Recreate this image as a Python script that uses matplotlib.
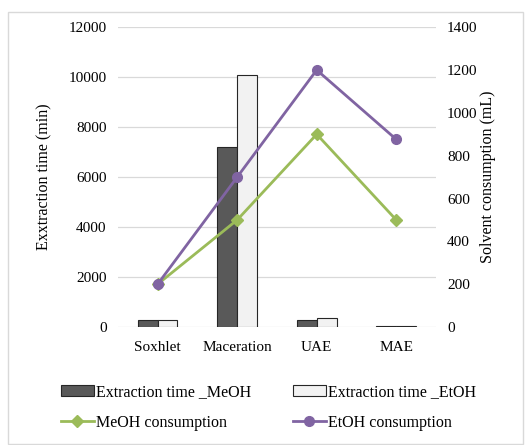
import matplotlib.pyplot as plt
import numpy as np
from matplotlib.patches import Rectangle

plt.rcParams["font.family"] = ["Liberation Serif", "DejaVu Serif"]

methods = ["Soxhlet", "Maceration", "UAE", "MAE"]
time_meoh = [270, 7200, 270, 30]
time_etoh = [290, 10080, 360, 30]
cons_meoh = [200, 500, 900, 500]
cons_etoh = [200, 700, 1200, 876]

x = np.arange(len(methods))
w = 0.25

fig = plt.figure(figsize=(5.26, 4.45), dpi=100)
ax = fig.add_axes([0.224, 0.265, 0.605, 0.674])

b1 = ax.bar(x - w / 2, time_meoh, w, color="#595959", edgecolor="#262626", linewidth=0.8,
            label="Extraction time _MeOH", zorder=2)
b2 = ax.bar(x + w / 2, time_etoh, w, color="#F2F2F2", edgecolor="#262626", linewidth=0.8,
            label="Extraction time _EtOH", zorder=2)
ax.set_ylim(0, 12000)
ax.set_yticks(range(0, 12001, 2000))
ax.set_xlim(-0.5, 3.5)
ax.set_xticks(x, methods)
ax.grid(axis="y", color="#d9d9d9", linewidth=0.9, zorder=0)
ax.set_axisbelow(True)
ax.tick_params(length=0, labelsize=11, pad=8)
ax.tick_params(axis="x", pad=10)
for s in ax.spines.values():
    s.set_visible(False)
ax.set_ylabel("Exxtraction time (min)", fontsize=11.5, labelpad=12)

ax2 = ax.twinx()
l1, = ax2.plot(x, cons_meoh, color="#9BBB59", marker="D", markersize=6, linewidth=2,
               label="MeOH consumption", zorder=3)
l2, = ax2.plot(x, cons_etoh, color="#8064A2", marker="o", markersize=7, linewidth=2,
               label="EtOH consumption", zorder=3)
ax2.set_ylim(0, 1400)
ax2.set_yticks(range(0, 1401, 200))
ax2.tick_params(length=0, labelsize=11, pad=8)
for s in ax2.spines.values():
    s.set_visible(False)
ax2.set_ylabel("Solvent consumption (mL)", fontsize=11.5, labelpad=2)

fig.legend([b1, l1, b2, l2],
           ["Extraction time _MeOH", "MeOH consumption", "Extraction time _EtOH", "EtOH consumption"],
           ncol=2, loc="lower center", bbox_to_anchor=(0.51, 0.0), frameon=False, fontsize=11.5,
           handlelength=2.1, handletextpad=0.1, columnspacing=2.6, labelspacing=0.9)

fig.patches.append(Rectangle((0.015, 0.003), 0.98, 0.97, transform=fig.transFigure,
                             fill=False, edgecolor="#d9d9d9", linewidth=1))

fig.savefig("out.png", dpi=100)
